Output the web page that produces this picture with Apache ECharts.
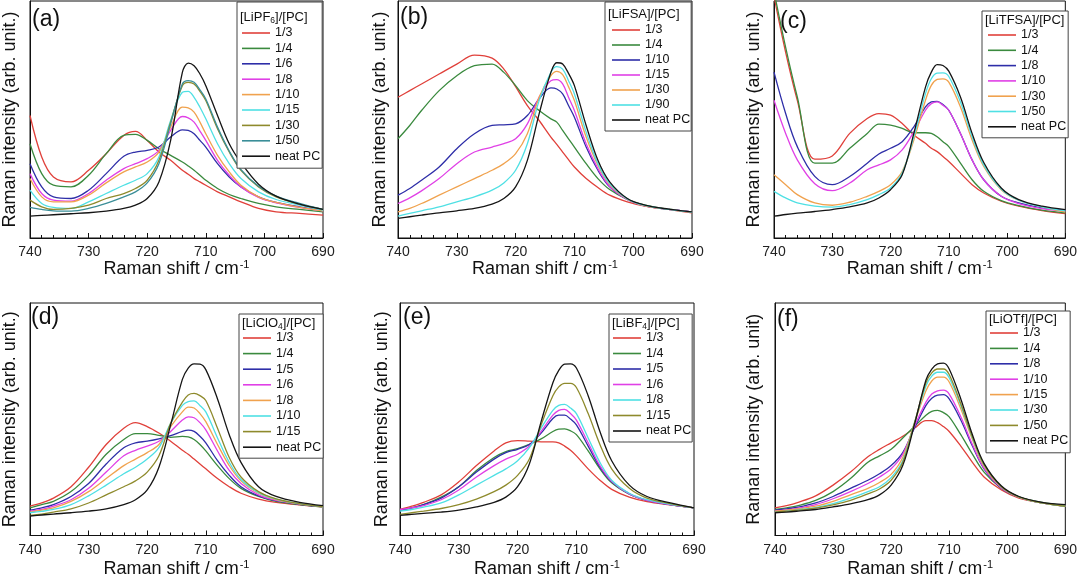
<!DOCTYPE html>
<html>
<head>
<meta charset="utf-8">
<script src="https://cdn.jsdelivr.net/npm/echarts@6/dist/echarts.min.js"></script>
<style>
html,body{margin:0;padding:0;background:#fff;}
#c{width:1080px;height:579px;}
</style>
</head>
<body>
<div id="c"></div>
<script>
// Raman shift sample positions (cm-1), shared by all panels
const RAMAN_SHIFT = [740,738,736,733,730,727,724,722,720,718,716,714,713,712,711,710,708,706,704,701,698,694,690];
const X_TICKS = [740,730,720,710,700,690];

// (a) [LiPF6]/[PC]
const pf6_1_3  = [369,244,184,169,204,254,309,321,294,259,234,204,192,179,169,159,139,124,109,89,79,74,69];
const pf6_1_4  = [284,194,159,154,189,254,309,312,294,269,249,229,217,204,189,174,149,131,119,104,94,86,79];
const pf6_1_6  = [224,154,124,119,144,194,246,259,264,274,304,326,324,314,294,274,224,184,154,124,107,94,84];
const pf6_1_8  = [194,134,114,111,134,174,209,224,239,264,324,366,362,349,322,294,234,189,154,122,106,92,82];
const pf6_1_10 = [179,124,109,109,129,166,199,214,229,259,334,394,392,379,349,314,249,199,159,124,107,92,82];
const pf6_1_15 = [144,104,92,89,109,134,159,174,194,244,354,439,442,424,394,359,284,224,179,139,116,99,84];
const pf6_1_30 = [114,94,86,89,99,119,134,149,174,234,349,459,469,464,442,414,329,259,204,154,124,102,86];
const pf6_1_50 = [92,86,82,81,89,104,124,139,166,224,344,464,474,469,446,419,334,262,206,156,126,104,86];
const pf6_neat = [66,68,70,73,76,81,89,99,119,169,294,499,527,519,494,459,369,284,227,162,126,102,86];

// (b) [LiFSA]/[PC]
const fsa_1_3  = [424,444,464,494,524,551,542,509,456,399,354,304,282,259,236,214,179,152,129,109,96,86,76];
const fsa_1_4  = [299,339,384,444,489,519,524,499,459,414,384,359,349,324,299,274,224,179,146,116,99,87,79];
const fsa_1_10 = [129,149,174,214,269,314,339,341,344,369,419,452,449,434,399,364,274,204,154,116,97,86,79];
const fsa_1_15 = [104,121,142,179,224,259,274,284,299,344,424,474,477,464,424,384,284,209,156,116,97,86,79];
const fsa_1_30 = [79,89,104,129,154,179,204,224,254,314,424,489,502,492,456,414,304,219,161,117,97,86,78];
const fsa_1_90 = [66,74,82,94,109,124,144,166,204,284,414,499,516,509,474,434,319,224,164,118,98,86,78];
const fsa_neat = [59,64,69,76,82,89,102,119,154,234,374,499,528,524,496,459,339,234,169,119,99,87,79];

// (c) [LiTFSA]/[PC]
const tfsa_1_3  = [730,561,416,238,248,316,361,376,371,346,311,286,271,261,246,231,196,161,136,111,96,83,74];
const tfsa_1_4  = [745,576,426,226,226,271,316,344,341,331,318,318,316,306,291,276,226,176,141,113,98,84,76];
const tfsa_1_8  = [501,376,276,186,161,186,226,254,271,291,336,396,411,413,403,386,316,236,176,126,106,91,84];
const tfsa_1_10 = [416,316,236,164,143,166,206,221,236,266,321,386,406,411,401,386,316,236,176,126,104,89,81];
const tfsa_1_30 = [191,161,131,106,99,108,126,141,161,201,296,416,461,479,481,471,396,296,216,146,114,94,78];
const tfsa_1_50 = [141,121,106,96,93,101,116,131,151,196,306,436,481,498,499,488,411,306,221,148,114,94,82];
const tfsa_neat = [66,71,75,80,86,94,106,121,146,191,316,456,501,524,521,504,426,316,228,151,116,96,86];

// (d) [LiClO4]/[PC]
const clo4_1_3  = [90,100,115,150,210,280,330,347,335,315,290,262,250,235,220,205,175,150,130,112,102,94,88];
const clo4_1_4  = [85,95,105,135,185,250,295,313,313,308,302,305,303,295,280,260,215,175,145,120,105,95,88];
const clo4_1_5  = [78,85,95,120,160,220,270,285,290,297,307,320,324,320,305,285,230,185,150,122,107,96,88];
const clo4_1_6  = [75,80,90,110,145,195,245,262,275,290,320,355,365,362,347,325,260,200,160,125,108,97,88];
const clo4_1_8  = [72,78,85,105,135,175,215,235,255,280,335,380,395,392,375,350,280,215,168,130,110,97,88];
const clo4_1_10 = [70,74,80,95,122,155,190,210,235,270,345,400,412,414,400,380,300,225,172,132,112,98,88];
const clo4_1_15 = [62,66,72,82,100,125,150,168,195,245,345,410,432,437,430,415,330,240,180,135,113,98,88];
const clo4_neat = [60,63,66,70,75,82,95,110,140,210,340,480,515,528,527,510,420,310,225,150,120,102,92];

// (e) [LiBF4]/[PC]
const bf4_1_3  = [80,90,102,125,165,215,260,285,292,290,288,288,285,275,262,245,205,170,142,118,104,94,85];
const bf4_1_4  = [77,85,95,118,150,200,240,258,267,280,297,320,327,328,322,310,260,205,162,127,108,95,85];
const bf4_1_5  = [78,85,95,115,150,195,235,255,265,280,315,360,370,370,358,340,275,210,165,128,108,95,85];
const bf4_1_6  = [80,85,92,110,140,180,215,235,250,275,320,370,385,388,375,355,285,215,167,128,108,95,85];
const bf4_1_8  = [75,80,87,100,125,155,185,205,230,270,330,385,400,403,392,375,300,225,170,130,110,96,85];
const bf4_1_15 = [65,70,75,83,95,112,135,155,185,235,340,430,457,468,468,455,375,280,205,145,115,98,85];
const bf4_neat = [62,65,68,72,78,88,102,118,150,220,350,470,508,527,528,515,430,320,230,155,120,100,85];

// (f) [LiOTf]/[PC]
const otf_1_3  = [85,92,102,122,155,195,242,265,285,305,330,353,353,347,335,320,275,225,180,140,115,100,90];
const otf_1_4  = [80,85,92,108,135,175,225,245,265,300,335,370,382,385,378,365,310,250,195,145,118,102,92];
const otf_1_8  = [78,82,87,100,120,145,170,190,215,255,330,400,422,432,433,420,355,275,205,145,118,100,90];
const otf_1_10 = [75,79,84,95,113,135,160,180,205,250,335,410,435,445,447,435,365,280,207,146,118,100,90];
const otf_1_15 = [75,78,82,90,105,125,145,163,188,240,345,445,475,487,487,472,390,295,213,148,118,100,90];
const otf_1_30 = [72,75,79,86,98,115,135,150,178,230,345,460,490,502,502,485,400,300,217,150,119,100,90];
const otf_1_50 = [72,75,78,84,94,108,128,143,170,225,345,470,500,512,512,495,405,303,218,150,119,100,90];
const otf_neat = [70,72,75,80,88,97,110,125,155,215,340,478,512,528,530,512,420,310,222,152,120,102,95];

const FONT = "'Liberation Sans', Arial, Helvetica, sans-serif";
const C = {red:'#e0403a', green:'#3a8a3e', blue:'#2e2ea8', mag:'#e040e6', orange:'#f0a24e',
           cyan:'#4fe0e4', olive:'#8e8a2c', teal:'#3a8e98', black:'#151515'};

const panels = [
  {id:'a', grid:{left:29,right:757,top:1,bottom:341}, ymax:714, yGap:11, xGap:21, lblMargin:7,
   ytitle:'Raman intensity (arb. unit.)', label:'(a)', labelPos:{left:32,top:8},
   header:'[LiPF{s|6}]/[PC]', headerPos:{left:240,top:10},
   legend:{left:237,top:2,padding:[24,2,5,5],itemGap:1.4},
   series:[['1/3',C.red,pf6_1_3],['1/4',C.green,pf6_1_4],['1/6',C.blue,pf6_1_6],['1/8',C.mag,pf6_1_8],
           ['1/10',C.orange,pf6_1_10],['1/15',C.cyan,pf6_1_15],['1/30',C.olive,pf6_1_30],['1/50',C.teal,pf6_1_50],
           ['neat PC',C.black,pf6_neat]]},
  {id:'b', grid:{left:398,right:388,top:1,bottom:341}, ymax:714, yGap:9, xGap:21, lblMargin:7,
   ytitle:'Raman intensity (arb. unit.)', label:'(b)', labelPos:{left:400,top:6},
   header:'[LiFSA]/[PC]', headerPos:{left:608,top:8},
   legend:{left:605,top:2,padding:[21,1,4,7],itemGap:1},
   series:[['1/3',C.red,fsa_1_3],['1/4',C.green,fsa_1_4],['1/10',C.blue,fsa_1_10],['1/15',C.mag,fsa_1_15],
           ['1/30',C.orange,fsa_1_30],['1/90',C.cyan,fsa_1_90],['neat PC',C.black,fsa_neat]]},
  {id:'c', grid:{left:774,right:11,top:1,bottom:341}, ymax:716, yGap:11, xGap:21, lblMargin:7,
   ytitle:'Raman intensity (arb. unit.)', label:'(c)', labelPos:{left:780,top:10},
   header:'[LiTFSA]/[PC]', headerPos:{left:985,top:14},
   legend:{left:982,top:11,padding:[17,2,4,6],itemGap:1.3},
   series:[['1/3',C.red,tfsa_1_3],['1/4',C.green,tfsa_1_4],['1/8',C.blue,tfsa_1_8],['1/10',C.mag,tfsa_1_10],
           ['1/30',C.orange,tfsa_1_30],['1/50',C.cyan,tfsa_1_50],['neat PC',C.black,tfsa_neat]]},
  {id:'d', grid:{left:28,right:757,top:303,bottom:37}, ymax:715, yGap:11, xGap:24, lblMargin:8,
   ytitle:'Raman intensity (arb. unit.)', label:'(d)', labelPos:{left:31,top:306},
   header:'[LiClO{s|4}]/[PC]', headerPos:{left:242,top:316},
   legend:{left:239,top:314,padding:[17,2,4,4],itemGap:1.6},
   series:[['1/3',C.red,clo4_1_3],['1/4',C.green,clo4_1_4],['1/5',C.blue,clo4_1_5],['1/6',C.mag,clo4_1_6],
           ['1/8',C.orange,clo4_1_8],['1/10',C.cyan,clo4_1_10],['1/15',C.olive,clo4_1_15],['neat PC',C.black,clo4_neat]]},
  {id:'e', grid:{left:400,right:386,top:303,bottom:37}, ymax:715, yGap:9, xGap:24, lblMargin:8,
   ytitle:'Raman intensity (arb. unit.)', label:'(e)', labelPos:{left:403,top:306},
   header:'[LiBF{s|4}]/[PC]', headerPos:{left:612,top:316},
   legend:{left:609,top:314,padding:[17,1,4,4],itemGap:1.5},
   series:[['1/3',C.red,bf4_1_3],['1/4',C.green,bf4_1_4],['1/5',C.blue,bf4_1_5],['1/6',C.mag,bf4_1_6],
           ['1/8',C.cyan,bf4_1_8],['1/15',C.olive,bf4_1_15],['neat PC',C.black,bf4_neat]]},
  {id:'f', grid:{left:775,right:11,top:303,bottom:37}, ymax:715, yGap:12, xGap:24, lblMargin:8,
   ytitle:'Raman intensity (arb. unit)', label:'(f)', labelPos:{left:777,top:308},
   header:'[LiOTf]/[PC]', headerPos:{left:989,top:313},
   legend:{left:986,top:311,padding:[15,2,5,4],itemGap:1.4},
   series:[['1/3',C.red,otf_1_3],['1/4',C.green,otf_1_4],['1/8',C.blue,otf_1_8],['1/10',C.mag,otf_1_10],
           ['1/15',C.orange,otf_1_15],['1/30',C.cyan,otf_1_30],['1/50',C.olive,otf_1_50],['neat PC',C.black,otf_neat]]}
];

const option = {animation:false, backgroundColor:'#fff', textStyle:{fontFamily:FONT},
  grid:[], xAxis:[], yAxis:[], series:[], legend:[], title:[]};

panels.forEach((p, i) => {
  option.grid.push(Object.assign({show:true, borderColor:'#111', borderWidth:1, containLabel:false}, p.grid));
  option.xAxis.push({
    gridIndex:i, type:'value', min:X_TICKS[X_TICKS.length-1], max:X_TICKS[0], interval:10, inverse:true,
    axisLine:{show:true, onZero:false, lineStyle:{color:'#111', width:1}},
    axisTick:{show:true, inside:true, length:5, lineStyle:{color:'#111', width:1}},
    minorTick:{show:true, splitNumber:5, length:3, lineStyle:{color:'#111', width:1}},
    splitLine:{show:false}, minorSplitLine:{show:false},
    axisLabel:{fontSize:14, color:'#222', margin:p.lblMargin, fontFamily:FONT},
    name:'Raman shift / cm{sup|-1}', nameLocation:'middle', nameGap:p.xGap,
    nameTextStyle:{fontSize:18, color:'#111', fontFamily:FONT,
      rich:{sup:{fontSize:11, color:'#111', fontFamily:FONT, verticalAlign:'top', padding:[0,0,8,1]}}}
  });
  option.yAxis.push({
    gridIndex:i, type:'value', min:0, max:p.ymax,
    axisLine:{show:true, onZero:false, lineStyle:{color:'#111', width:1}},
    axisTick:{show:false}, axisLabel:{show:false}, splitLine:{show:false},
    name:p.ytitle, nameLocation:'middle', nameGap:p.yGap,
    nameTextStyle:{fontSize:18, color:'#111', fontFamily:FONT}
  });
  const names = [];
  p.series.forEach(([lab, col, vals], k) => {
    const nm = p.id + '|' + lab;
    names.push(nm);
    option.series.push({
      type:'line', name:nm, xAxisIndex:i, yAxisIndex:i,
      data: RAMAN_SHIFT.map((x, j) => [x, vals[j]]),
      smooth:0.35, symbol:'none', showSymbol:false, clip:true,
      lineStyle:{width:1.3, color:col}, itemStyle:{color:col}, z:2+k*0.01
    });
  });
  option.legend.push(Object.assign({
    data:names, orient:'vertical', icon:'rect', itemWidth:28, itemHeight:1.6, selectedMode:false,
    borderColor:'#444', borderWidth:1, backgroundColor:'#fff',
    textStyle:{fontSize:12.5, lineHeight:14, color:'#111', fontFamily:FONT},
    formatter: n => n.split('|')[1]
  }, p.legend));
  option.title.push(Object.assign({text:p.label, padding:0,
    textStyle:{fontSize:23, fontWeight:'normal', color:'#111', fontFamily:FONT}}, p.labelPos));
  option.title.push(Object.assign({text:p.header, padding:0,
    textStyle:{fontSize:13, fontWeight:'normal', color:'#111', fontFamily:FONT,
      rich:{s:{fontSize:8.5, color:'#111', fontFamily:FONT, verticalAlign:'bottom', padding:[6,0,0,0]}}}}, p.headerPos));
});

const chart = echarts.init(document.getElementById('c'), null, {renderer:'canvas'});
chart.setOption(option);
</script>
</body>
</html>
